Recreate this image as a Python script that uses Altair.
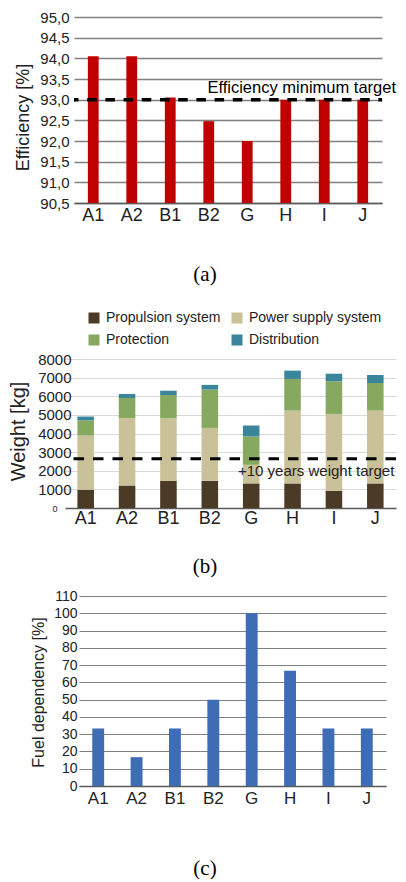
import altair as alt
import pandas as pd

# ---------------- data ----------------
CATS = ["A1", "A2", "B1", "B2", "G", "H", "I", "J"]

# (a) efficiency
EFFICIENCY = [94.05, 94.05, 93.05, 92.48, 92.0, 93.0, 93.0, 93.0]
EFF_TICKS = [90.5, 91.0, 91.5, 92.0, 92.5, 93.0, 93.5, 94.0, 94.5, 95.0]
EFF_MIN = 90.5
EFF_MAX = 95.0
EFF_TARGET = [93.0]
EFF_TARGET_LABEL = ["Efficiency minimum target"]

# (b) weight breakdown (kg per system)
SYSTEMS = ["Propulsion system", "Power supply system", "Protection", "Distribution"]
SYSTEM_COLORS = ["#4B3A25", "#C9C197", "#86A95F", "#3A8599"]
PROPULSION = [980, 1210, 1460, 1460, 1320, 1320, 930, 1320]
POWER_SUPPLY = [2910, 3610, 3360, 2840, 1000, 3910, 4120, 3910]
PROTECTION = [810, 1090, 1250, 2060, 1520, 1700, 1750, 1480]
DISTRIBUTION = [210, 215, 230, 250, 590, 445, 410, 430]
WEIGHT_TICKS = [0, 1000, 2000, 3000, 4000, 5000, 6000, 7000, 8000]
WEIGHT_TARGET = [2650]
WEIGHT_TARGET_LABEL = ["+10 years weight target"]

# (c) fuel dependency
FUEL = [33.3, 16.7, 33.3, 50.0, 100.0, 66.7, 33.3, 33.3]
FUEL_TICKS = [0, 10, 20, 30, 40, 50, 60, 70, 80, 90, 100, 110]

CAPTIONS = ["(a)", "(b)", "(c)"]

SANS = "Liberation Sans"
SERIF = "Liberation Serif"
TXT = "#222222"


def caption(text, offset, dx):
    return alt.TitleParams(text, orient="bottom", anchor="middle", font=SERIF,
                           fontSize=21, fontWeight="normal", color="black",
                           offset=offset, dx=dx)


def xaxis(pad, size):
    return alt.Axis(title=None, labelAngle=0, ticks=False, tickSize=0,
                    labelPadding=pad, labelFontSize=size, labelFont=SANS,
                    labelColor=TXT, domainColor="#595959", domainWidth=1.5,
                    grid=False)


# ---------------- panel (a) ----------------
df_a = pd.DataFrame({"cat": CATS, "eff": EFFICIENCY})
xa_scale = alt.Scale(range=[9, 317], paddingInner=0.72, paddingOuter=0.36)
ya_scale = alt.Scale(domain=[EFF_MIN, EFF_MAX], zero=False, nice=False)
ya_axis = alt.Axis(values=EFF_TICKS, offset=-9, ticks=False, tickSize=0,
                   labelPadding=5, labelFontSize=15, labelOverlap=False,
                   labelExpr="replace(format(datum.value, '.1f'), '.', ',')",
                   gridColor="#808080", gridWidth=1.5, domain=False,
                   titleFontSize=18, titleX=-42, titleY=100)
bars_a = alt.Chart(df_a).mark_bar(color="#C00000").encode(
    x=alt.X("cat:N", sort=CATS, scale=xa_scale, axis=xaxis(3, 18)),
    y=alt.Y("eff:Q", scale=ya_scale, title="Efficiency [%]", axis=ya_axis),
    y2=alt.datum(EFF_MIN),
)
rule_a = alt.Chart(pd.DataFrame({"t": EFF_TARGET})).mark_rule(
    color="black", strokeWidth=3.5, strokeDash=[9.5, 8.7], strokeDashOffset=5
).encode(y=alt.Y("t:Q", scale=ya_scale, title="Efficiency [%]", axis=ya_axis),
         x=alt.value(9), x2=alt.value(317))
text_a = alt.Chart(pd.DataFrame({"t": EFF_TARGET, "label": EFF_TARGET_LABEL})).mark_text(
    align="right", baseline="bottom", dy=-4, fontSize=16.5, font=SANS, color="black"
).encode(y=alt.Y("t:Q", scale=ya_scale, title="Efficiency [%]", axis=ya_axis),
         x=alt.value(331), text="label:N")
panel_a = alt.layer(bars_a, rule_a, text_a).properties(
    width=317, height=186, title=caption(CAPTIONS[0], 40, -18.5))

# ---------------- panel (b) ----------------
rows = []
for i, c in enumerate(CATS):
    for j, vals in enumerate([PROPULSION, POWER_SUPPLY, PROTECTION, DISTRIBUTION]):
        rows.append({"cat": c, "system": SYSTEMS[j], "w": vals[i], "ord": j})
df_b = pd.DataFrame(rows)
yb_scale = alt.Scale(domain=[0, 8000], range=[217, 68], nice=False)
yb_axis = alt.Axis(values=WEIGHT_TICKS, format="d", offset=-8, ticks=False,
                   tickSize=0, labelOverlap=False,
                   labelPadding=alt.condition("datum.value == 0", alt.value(16), alt.value(2)),
                   labelFontSize=alt.condition("datum.value == 0", alt.value(9), alt.value(15)),
                   gridColor="#D9D9D9", gridWidth=1, domain=False,
                   titleFontSize=20, titleX=-45, titleY=140)
bars_b = alt.Chart(df_b).mark_bar().encode(
    x=alt.X("cat:N", sort=CATS,
            scale=alt.Scale(paddingInner=0.6, paddingOuter=0.3),
            axis=xaxis(1, 18)),
    y=alt.Y("w:Q", stack="zero", scale=yb_scale, title="Weight [kg]", axis=yb_axis),
    color=alt.Color("system:N", scale=alt.Scale(domain=SYSTEMS, range=SYSTEM_COLORS),
                    legend=alt.Legend(title=None, orient="none", legendX=22, legendY=20,
                                      direction="horizontal", columns=2,
                                      symbolType="square", symbolSize=121,
                                      symbolStrokeWidth=0, labelFontSize=14,
                                      labelFont=SANS, labelColor=TXT, labelOffset=5,
                                      columnPadding=9, rowPadding=8, padding=0)),
    order=alt.Order("ord:Q", sort="ascending"),
)
rule_b = alt.Chart(pd.DataFrame({"t": WEIGHT_TARGET})).mark_rule(
    color="black", strokeWidth=3, strokeDash=[10.5, 9]
).encode(y=alt.Y("t:Q", scale=yb_scale, title="Weight [kg]", axis=yb_axis))
text_b = alt.Chart(pd.DataFrame({"t": WEIGHT_TARGET, "label": WEIGHT_TARGET_LABEL})).mark_text(
    align="left", baseline="middle", dy=12, fontSize=15, font=SANS, color=TXT
).encode(y=alt.Y("t:Q", scale=yb_scale, title="Weight [kg]", axis=yb_axis),
         x=alt.value(173), text="label:N")
panel_b = alt.layer(bars_b, rule_b, text_b).properties(
    width=331, height=217, title=caption(CAPTIONS[1], 29, -25.5))

# ---------------- panel (c) ----------------
df_c = pd.DataFrame({"cat": CATS, "fuel": FUEL})
panel_c = alt.Chart(df_c).mark_bar(color="#3E6DB5").encode(
    x=alt.X("cat:N", sort=CATS,
            scale=alt.Scale(range=[14, 321], paddingInner=0.69, paddingOuter=0.345),
            axis=xaxis(4, 17)),
    y=alt.Y("fuel:Q", scale=alt.Scale(domain=[0, 110], nice=False),
            title="Fuel dependency [%]",
            axis=alt.Axis(values=FUEL_TICKS, offset=-14, ticks=False, tickSize=0,
                          labelPadding=2, labelFontSize=14, labelOverlap=False,
                          gridColor="#808080", gridWidth=1.2, domain=False,
                          titleFontSize=16, titleX=-33, titleY=96)),
).properties(width=321, height=190, title=caption(CAPTIONS[2], 52, -20.5))

chart = alt.vconcat(panel_a, panel_b, panel_c, spacing=88, bounds="flush").resolve_scale(
    color="independent"
).resolve_legend(color="independent").properties(
    padding={"left": 0, "top": 2, "right": 0, "bottom": 0}
).configure_view(stroke=None).configure_axis(
    labelFont=SANS, titleFont=SANS, labelColor=TXT, titleColor=TXT,
    titleFontWeight="normal"
)

chart.save("out.html", embed_options={"renderer": "svg", "actions": False})
